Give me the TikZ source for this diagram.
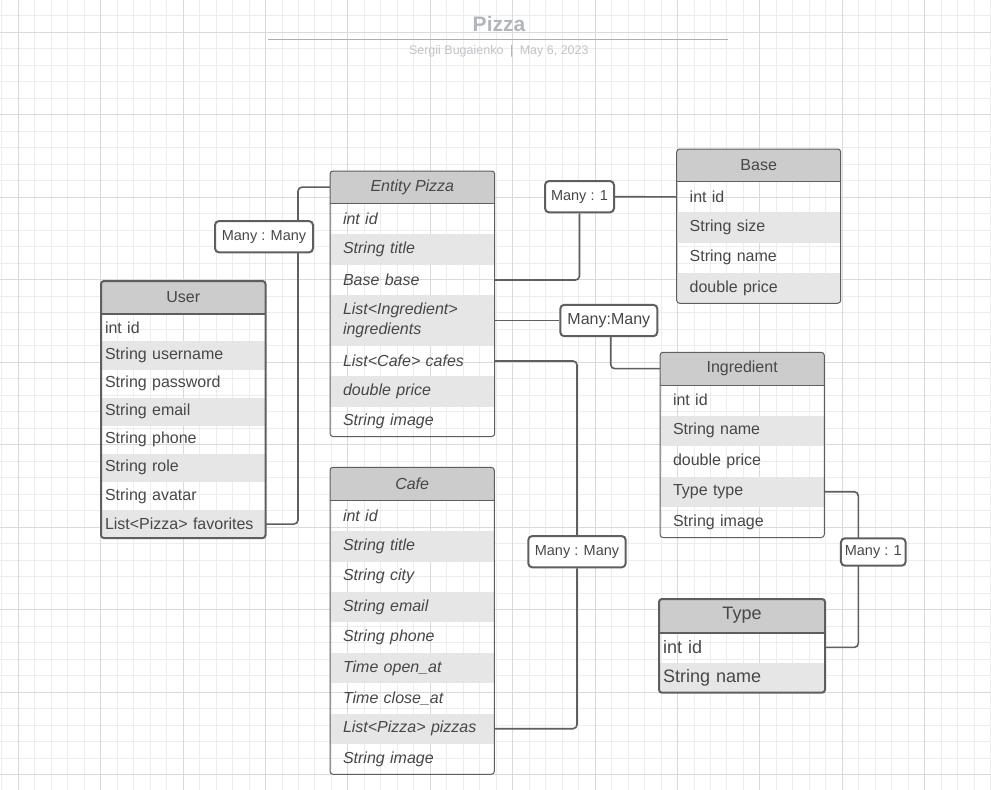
\documentclass[tikz,border=0pt]{standalone}
\usepackage{fontspec}
\setmainfont{Liberation Sans}
\definecolor{txtc}{HTML}{474747}
\definecolor{hdrc}{HTML}{CCCCCC}
\definecolor{shadec}{HTML}{E6E6E6}
\definecolor{bordc}{HTML}{5E5E5E}
\definecolor{conc}{HTML}{5F5F5F}
\definecolor{gridmin}{HTML}{EDEDED}
\definecolor{gridmaj}{HTML}{DADADA}
\definecolor{titc}{HTML}{B2B5BB}
\definecolor{rulec}{HTML}{AAADB3}
\definecolor{subc}{HTML}{C0C3C8}
\begin{document}
\begin{tikzpicture}[x=1pt,y=-1pt,
  hdrbox/.style={fill=hdrc, inner sep=0pt, text=txtc, font=\fontsize{16}{18}\selectfont},
  rowbox/.style={inner ysep=0pt, text=txtc, align=left, anchor=center, font=\fontsize{16}{19.5}\selectfont},
  shaded/.style={fill=shadec},
  ital/.style={font=\fontsize{16}{19.5}\selectfont\itshape},
  frame/.style={draw=bordc, line width=1pt, rounded corners=3pt},
  thickframe/.style={draw=bordc, line width=2pt, rounded corners=3pt},
  conn/.style={draw=conc, line width=1.6pt, rounded corners=4pt},
  lbl/.style={draw=conc, line width=2pt, rounded corners=4pt, fill=white, inner sep=0pt, text=txtc, font=\fontsize{14.5}{16}\selectfont}
]
\useasboundingbox (0,0) rectangle (991,790);
\fill[white] (0,0) rectangle (991,790);
% grid
\foreach \k in {-1,...,59} {\draw[gridmin, line width=0.9pt] ({18.3+16.48*\k},0) -- ({18.3+16.48*\k},790);}
\foreach \k in {-1,...,46} {\draw[gridmin, line width=0.9pt] (0,{32.3+16.5*\k}) -- (991,{32.3+16.5*\k});}
\foreach \k in {0,...,11} {\draw[gridmaj, line width=1pt] ({18.3+82.4*\k},0) -- ({18.3+82.4*\k},790);}
\foreach \k in {0,...,9} {\draw[gridmaj, line width=1pt] (0,{32.3+82.5*\k}) -- (991,{32.3+82.5*\k});}

% title
\node[text=titc, font=\fontsize{21}{24}\selectfont\bfseries] (title) at (499,24) {Pizza};
\coordinate (rulel) at (268.3,39.7);
\coordinate (ruler) at (728.3,39.7);
\draw[rulec, line width=1.5pt] (rulel) -- (ruler);
\node[text=subc, font=\fontsize{12.5}{14}\selectfont] (subtitle) at (498.8,51.7) {Sergii Bugaienko\hspace{6.5pt}{\color{rulec}|}\hspace{6.5pt}May 6, 2023};

% ---------- User ----------
\begin{scope}
\clip[rounded corners=3pt] (101,281) rectangle (265.5,538.1);
\node[hdrbox, minimum width=164.5, minimum height=32.3] (uh) at (183.25,297.15) {User};
\foreach \n/\y/\t/\s in {1/327.35/int id/,2/355.45/String username/shaded,3/383.55/String password/,4/411.65/String email/shaded,5/439.75/String phone/,6/467.85/String role/shaded,7/495.95/String avatar/,8/524.05/List<Pizza> favorites/shaded}
  {\node[rowbox, \s, minimum height=28.1, inner xsep=4pt, text width=156.5] (u\n) at (183.25,\y) {\t};}
\end{scope}
\draw[bordc, line width=2pt] (uh.south west) -- (uh.south east);
\draw[thickframe] (101,281) rectangle (265.5,538.1);

% ---------- Entity Pizza ----------
\begin{scope}
\clip[rounded corners=3pt] (330,171) rectangle (494.7,436.5);
\node[hdrbox, ital, minimum width=164.7, minimum height=32.3] (ph) at (412.35,187.15) {Entity Pizza};
\node[rowbox, ital, minimum height=30.7, inner xsep=13pt, text width=138.7] (p1) at (412.35,218.65) {int id};
\node[rowbox, ital, shaded, minimum height=31, inner xsep=13pt, text width=138.7] (p2) at (412.35,249.5) {String title};
\node[rowbox, ital, minimum height=30, inner xsep=13pt, text width=138.7] (p3) at (412.35,280) {Base base};
\node[rowbox, ital, shaded, minimum height=51, inner xsep=13pt, text width=138.7] (p4) at (412.35,320.5) {List<Ingredient>\\ingredients};
\node[rowbox, ital, minimum height=30, inner xsep=13pt, text width=138.7] (p5) at (412.35,361) {List<Cafe> cafes};
\node[rowbox, ital, shaded, minimum height=30.5, inner xsep=13pt, text width=138.7] (p6) at (412.35,391.25) {double price};
\node[rowbox, ital, minimum height=30, inner xsep=13pt, text width=138.7] (p7) at (412.35,421.5) {String image};
\end{scope}
\draw[bordc, line width=1pt] (ph.south west) -- (ph.south east);
\draw[frame] (330,171) rectangle (494.7,436.5);

% ---------- Base ----------
\begin{scope}
\clip[rounded corners=3pt] (676.7,149) rectangle (840.7,303.3);
\node[hdrbox, minimum width=164, minimum height=32.7] (bh) at (758.7,165.35) {Base};
\foreach \n/\y/\t/\s in {1/196.9/int id/,2/227.3/String size/shaded,3/257.7/String name/,4/288.1/double price/shaded}
  {\node[rowbox, \s, minimum height=30.4, inner xsep=13pt, text width=138] (b\n) at (758.7,\y) {\t};}
\end{scope}
\draw[bordc, line width=1pt] (bh.south west) -- (bh.south east);
\draw[frame] (676.7,149) rectangle (840.7,303.3);

% ---------- Ingredient ----------
\begin{scope}
\clip[rounded corners=3pt] (660,352.3) rectangle (824.3,537.5);
\node[hdrbox, minimum width=164.3, minimum height=32.7] (ih) at (742.15,368.65) {Ingredient};
\foreach \n/\y/\t/\s in {1/400.25/int id/,2/430.75/String name/shaded,3/461.25/double price/,4/491.75/Type type/shaded,5/522.25/String image/}
  {\node[rowbox, \s, minimum height=30.5, inner xsep=13pt, text width=138.3] (i\n) at (742.15,\y) {\t};}
\end{scope}
\draw[bordc, line width=1pt] (ih.south west) -- (ih.south east);
\draw[frame] (660,352.3) rectangle (824.3,537.5);

% ---------- Type ----------
\begin{scope}
\clip[rounded corners=3pt] (659,599) rectangle (825,692.7);
\node[hdrbox, font=\fontsize{18}{20}\selectfont, minimum width=166, minimum height=33.3] (th) at (742,615.65) {Type};
\node[rowbox, font=\fontsize{18}{20}\selectfont, minimum height=30.2, inner xsep=4pt, text width=158] (t1) at (742,647.4) {int id};
\node[rowbox, shaded, font=\fontsize{18}{20}\selectfont, minimum height=30.2, inner xsep=4pt, text width=158] (t2) at (742,677.6) {String name};
\end{scope}
\draw[bordc, line width=2pt] (th.south west) -- (th.south east);
\draw[thickframe] (659,599) rectangle (825,692.7);

% ---------- Cafe ----------
\begin{scope}
\clip[rounded corners=3pt] (330,467.3) rectangle (494.3,774.3);
\node[hdrbox, ital, minimum width=164.3, minimum height=33.4] (ch) at (412.15,484) {Cafe};
\foreach \n/\y/\t/\s in {1/515.9/int id/,2/546.3/String title/shaded,3/576.7/String city/,4/607.1/String email/shaded,5/637.5/String phone/,6/667.9/Time open\_at/shaded,7/698.3/Time close\_at/,8/728.7/List<Pizza> pizzas/shaded,9/759.1/String image/}
  {\node[rowbox, ital, \s, minimum height=30.4, inner xsep=13pt, text width=138.3] (c\n) at (412.15,\y) {\t};}
\end{scope}
\draw[bordc, line width=1pt] (ch.south west) -- (ch.south east);
\draw[frame] (330,467.3) rectangle (494.3,774.3);

% ---------- connectors ----------
\coordinate (k1) at (298,236.7);
\draw[conn] (u8.east) -| (k1) |- (ph.west);
\node[lbl, minimum width=98, minimum height=31.3] (L1) at (264,236.7) {Many : Many};

\node[lbl, minimum width=69, minimum height=31.3] (L2) at (579.5,196.7) {Many : 1};
\draw[conn] (p3.east) -| (L2.south);
\draw[conn] (L2.east) -- (b1.west);

\node[lbl, font=\fontsize{16}{18}\selectfont, minimum width=97, minimum height=31.4] (L3) at (608.8,320.5) {Many:Many};
\draw[conn] (p4.east) -- (L3.west);
\coordinate (k3) at (610.7,336.2);
\draw[conn] (k3) |- (ih.west);

\node[lbl, minimum width=97.4, minimum height=31.3] (L4) at (577,551.7) {Many : Many};
\draw[conn] (p5.east) -| (L4.north);
\draw[conn] (L4.south) |- (c8.east);

\coordinate (k5) at (858.3,552);
\draw[conn] (i4.east) -| (k5) |- (t1.east);
\node[lbl, minimum width=64.7, minimum height=27.4] (L5) at (873.3,552) {Many : 1};
\end{tikzpicture}
\end{document}
